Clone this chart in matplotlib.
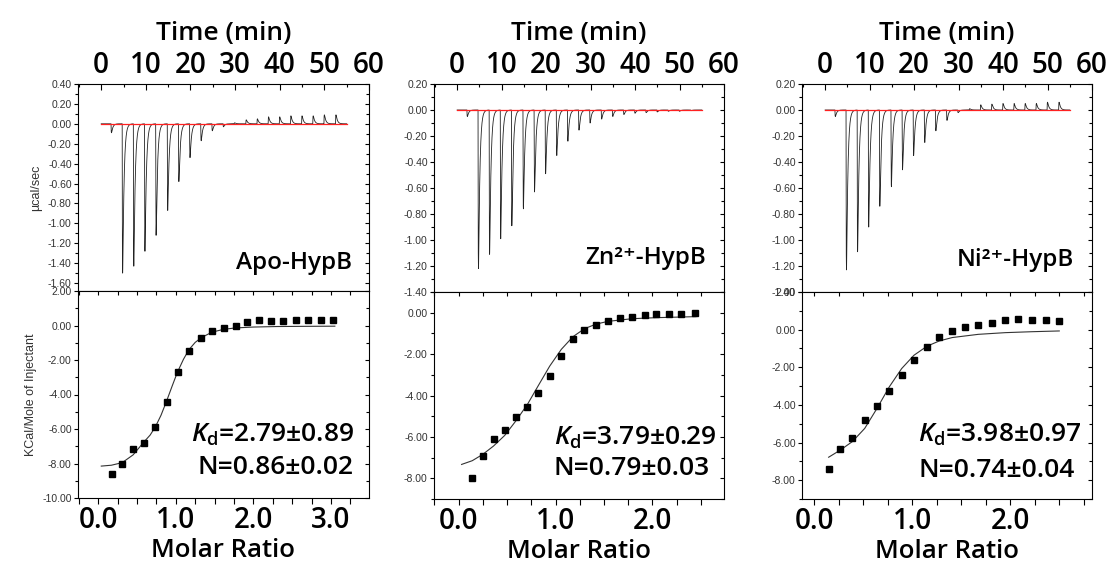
import numpy as np
import matplotlib
matplotlib.use("Agg")
import matplotlib.pyplot as plt
from matplotlib.ticker import MultipleLocator, FormatStrFormatter, FixedLocator

plt.rcParams['axes.unicode_minus'] = False
plt.rcParams['mathtext.fontset'] = 'custom'
plt.rcParams['mathtext.rm'] = 'Open Sans:semibold'
plt.rcParams['mathtext.it'] = 'Open Sans:italic:semibold'
plt.rcParams['mathtext.bf'] = 'Open Sans:bold'

# ---------------- data ----------------
inj_time = [2.2, 4.7, 7.2, 9.7, 12.2, 14.8, 17.3, 19.8, 22.3, 24.8, 27.3,
            29.8, 32.4, 34.9, 37.4, 39.9, 42.4, 44.9, 47.4, 49.9, 52.5]

apo_peak = [-0.09, -1.50, -1.43, -1.28, -1.12, -0.87, -0.58, -0.34, -0.17, -0.07, -0.03,
            0.01, 0.04, 0.05, 0.07, 0.07, 0.08, 0.08, 0.08, 0.09, 0.09]
zn_peak = [-0.05, -1.22, -1.11, -0.99, -0.89, -0.76, -0.63, -0.49, -0.35, -0.24, -0.155,
           -0.10, -0.07, -0.05, -0.035, -0.025, -0.02, -0.015, -0.01, -0.01, -0.005]
ni_peak = [-0.05, -1.23, -1.09, -0.90, -0.74, -0.59, -0.46, -0.35, -0.25, -0.16, -0.08,
           -0.02, 0.01, 0.04, 0.045, 0.05, 0.05, 0.05, 0.05, 0.06, 0.06]

apo_ratio = [0.172, 0.310, 0.452, 0.594, 0.736, 0.882, 1.024, 1.174, 1.325, 1.471,
             1.622, 1.772, 1.923, 2.077, 2.228, 2.387, 2.551, 2.710, 2.873, 3.032]
apo_heat = [-8.60, -8.04, -7.17, -6.82, -5.91, -4.43, -2.72, -1.45, -0.75, -0.33,
            -0.17, -0.04, 0.21, 0.31, 0.25, 0.27, 0.33, 0.33, 0.29, 0.29]
apo_fit_x = [0.04, 0.17, 0.31, 0.45, 0.59, 0.67, 0.74, 0.81, 0.88, 0.95, 1.02,
             1.10, 1.17, 1.25, 1.33, 1.47, 1.62, 1.77, 2.0, 2.3, 2.6, 3.05]
apo_fit_y = [-8.15, -8.10, -7.95, -7.50, -6.75, -6.35, -5.85, -5.20, -4.40, -3.55, -2.72,
             -1.95, -1.40, -0.98, -0.70, -0.38, -0.22, -0.14, -0.09, -0.06, -0.05, -0.04]

zn_ratio = [0.141, 0.251, 0.362, 0.475, 0.589, 0.706, 0.823, 0.940, 1.057, 1.178,
            1.298, 1.422, 1.543, 1.670, 1.790, 1.921, 2.042, 2.173, 2.300, 2.438]
zn_heat = [-7.97, -6.92, -6.12, -5.68, -5.02, -4.56, -3.86, -3.08, -2.09, -1.29,
           -0.82, -0.61, -0.40, -0.27, -0.21, -0.10, -0.06, -0.08, -0.06, 0.00]
zn_fit_x = [0.03, 0.14, 0.25, 0.36, 0.475, 0.59, 0.71, 0.82, 0.94, 1.06, 1.18,
            1.30, 1.42, 1.54, 1.79, 2.04, 2.45]
zn_fit_y = [-7.33, -7.15, -6.84, -6.44, -5.93, -5.23, -4.43, -3.54, -2.58, -1.77, -1.16,
            -0.77, -0.55, -0.42, -0.29, -0.24, -0.19]

ni_ratio = [0.146, 0.265, 0.388, 0.514, 0.639, 0.765, 0.891, 1.017, 1.150, 1.276,
            1.408, 1.541, 1.673, 1.813, 1.949, 2.082, 2.221, 2.361, 2.500]
ni_heat = [-7.42, -6.33, -5.74, -4.81, -4.06, -3.27, -2.39, -1.59, -0.94, -0.41,
           -0.05, 0.16, 0.25, 0.35, 0.49, 0.55, 0.51, 0.51, 0.46]
ni_fit_x = [0.146, 0.265, 0.388, 0.514, 0.639, 0.765, 0.891, 1.017, 1.150, 1.276,
            1.408, 1.673, 1.949, 2.221, 2.500]
ni_fit_y = [-6.78, -6.40, -5.95, -5.25, -4.19, -3.04, -2.07, -1.36, -0.88, -0.60,
            -0.42, -0.25, -0.16, -0.11, -0.07]

names = ['Apo-HypB', 'Zn²⁺-HypB', 'Ni²⁺-HypB']
kd_text = [r'$\mathit{K}_{\mathrm{d}}$=2.79±0.89', r'$\mathit{K}_{\mathrm{d}}$=3.79±0.29',
           r'$\mathit{K}_{\mathrm{d}}$=3.98±0.97']
n_text = ['N=0.86±0.02', 'N=0.79±0.03', 'N=0.74±0.04']
ratio_ticklabels = [['0.0', '1.0', '2.0', '3.0'], ['0.0', '1.0', '2.0'], ['0.0', '1.0', '2.0']]
ratio_ticks = [[0, 1, 2, 3], [0, 1, 2], [0, 1, 2]]

peaks = [apo_peak, zn_peak, ni_peak]
ratios = [apo_ratio, zn_ratio, ni_ratio]
heats = [apo_heat, zn_heat, ni_heat]
fits_x = [apo_fit_x, zn_fit_x, ni_fit_x]
fits_y = [apo_fit_y, zn_fit_y, ni_fit_y]

# ---------------- layout / style ----------------
W, H = 1109, 567
panels = [dict(l=78, r=369, t=84, m=291, b=498),
          dict(l=434, r=724, t=84, m=292, b=499),
          dict(l=802, r=1092, t=84, m=292, b=499)]
top_ylim = [(-1.68, 0.40), (-1.40, 0.20), (-1.40, 0.20)]
bot_ylim = [(-10, 2), (-9, 1), (-9, 2)]
bot_xlim = [(-0.26, 3.49), (-0.255, 2.74), (-0.126, 2.834)]
label_pos = [(0.742, 0.135), (0.731, 0.163), (0.736, 0.154)]
kd_pos = [(0.668, 0.304), (0.693, 0.293), (0.683, 0.309)]
n_pos = [(0.680, 0.145), (0.682, 0.148), (0.672, 0.140)]

BIGFONT = dict(family=['Open Sans', 'DejaVu Sans'], weight='semibold')
small_col = '#333333'


def rect(l, r, t, b):
    return [l / W, 1 - b / H, (r - l) / W, (b - t) / H]


def thermogram(times, pk, t):
    dtf = np.linspace(0, 3, 30001)
    gf = (1 - np.exp(-dtf / 0.05)) * np.exp(-dtf / 0.3)
    gmax = gf.max()
    y = np.zeros_like(t)
    for t0, h in zip(times, pk):
        dt = t - t0
        m = dt >= 0
        g = np.zeros_like(t)
        g[m] = (1 - np.exp(-dt[m] / 0.05)) * np.exp(-dt[m] / 0.3)
        y += h * g / gmax
    return y


fig = plt.figure(figsize=(W / 100, H / 100), dpi=100)
t = np.linspace(0, 55, 40000)

for i, p in enumerate(panels):
    # ---- upper: raw thermogram ----
    axt = fig.add_axes(rect(p['l'], p['r'], p['t'], p['m']))
    axt.plot(t, thermogram(inj_time, peaks[i], t), color='#222222', lw=0.6)
    axt.plot([0, 55], [0, 0], color='#ff2020', lw=0.9)
    axt.set_xlim(-5.2, 60)
    axt.set_ylim(*top_ylim[i])
    axt.xaxis.tick_top()
    axt.xaxis.set_label_position('top')
    axt.xaxis.set_major_locator(MultipleLocator(10))
    axt.xaxis.set_minor_locator(MultipleLocator(5))
    axt.tick_params(axis='x', which='both', direction='in', top=True, bottom=False,
                    labeltop=True, labelbottom=False, pad=3)
    axt.tick_params(axis='x', which='major', length=4, width=0.8)
    axt.tick_params(axis='x', which='minor', length=2.5, width=0.8)
    for lab in axt.get_xticklabels():
        lab.set_fontfamily('Open Sans'); lab.set_fontweight('semibold'); lab.set_fontsize(20)
    axt.set_xlabel('Time (min)', fontsize=19, labelpad=8, **BIGFONT)
    axt.yaxis.set_major_locator(MultipleLocator(0.2))
    axt.yaxis.set_minor_locator(MultipleLocator(0.1))
    axt.yaxis.set_major_formatter(FormatStrFormatter('%.2f'))
    axt.tick_params(axis='y', which='both', direction='out', left=True, right=False,
                    labelsize=7.5, labelcolor=small_col, pad=1.5)
    axt.tick_params(axis='y', which='major', length=3, width=0.8)
    axt.tick_params(axis='y', which='minor', length=2, width=0.8)
    for lab in axt.get_yticklabels():
        lab.set_fontfamily('Liberation Sans')
    sy = axt.secondary_yaxis('right')
    sy.yaxis.set_major_locator(MultipleLocator(0.2))
    sy.yaxis.set_minor_locator(MultipleLocator(0.1))
    sy.tick_params(axis='y', which='both', direction='in', labelright=False)
    sy.tick_params(axis='y', which='major', length=3, width=0.8)
    sy.tick_params(axis='y', which='minor', length=2, width=0.8)
    sy.spines['right'].set_visible(False)
    for s in axt.spines.values():
        s.set_linewidth(0.8)
    axt.text(label_pos[i][0], label_pos[i][1], names[i], transform=axt.transAxes,
             ha='center', va='center', fontsize=17.5, **BIGFONT)
    if i == 0:
        axt.set_ylabel('µcal/sec', fontsize=9, color=small_col, labelpad=4,
                       family='Liberation Sans')

    # ---- lower: integrated heats ----
    axb = fig.add_axes(rect(p['l'], p['r'], p['m'], p['b']))
    axb.plot(fits_x[i], fits_y[i], color='#333333', lw=0.8)
    axb.plot(ratios[i], heats[i], 's', color='black', ms=4.8)
    axb.set_xlim(*bot_xlim[i])
    axb.set_ylim(*bot_ylim[i])
    axb.xaxis.set_major_locator(FixedLocator(ratio_ticks[i]))
    axb.set_xticklabels(ratio_ticklabels[i])
    axb.xaxis.set_minor_locator(MultipleLocator(0.25))
    axb.tick_params(axis='x', which='both', direction='out', bottom=True, top=False, pad=2)
    axb.tick_params(axis='x', which='major', length=4, width=0.8)
    axb.tick_params(axis='x', which='minor', length=4, width=0.8)
    for lab in axb.get_xticklabels():
        lab.set_fontfamily('Open Sans'); lab.set_fontweight('semibold'); lab.set_fontsize(20)
    axb.set_xlabel('Molar Ratio', fontsize=18.5, labelpad=2, **BIGFONT)
    axb.yaxis.set_major_locator(MultipleLocator(2))
    axb.yaxis.set_minor_locator(MultipleLocator(1))
    axb.yaxis.set_major_formatter(FormatStrFormatter('%.2f'))
    axb.tick_params(axis='y', which='both', direction='out', left=True, right=False,
                    labelsize=7.5, labelcolor=small_col, pad=1.5)
    axb.tick_params(axis='y', which='major', length=3, width=0.8)
    axb.tick_params(axis='y', which='minor', length=2, width=0.8)
    for lab in axb.get_yticklabels():
        lab.set_fontfamily('Liberation Sans')
    sy2 = axb.secondary_yaxis('right')
    sy2.yaxis.set_major_locator(MultipleLocator(2))
    sy2.yaxis.set_minor_locator(MultipleLocator(1))
    sy2.tick_params(axis='y', which='both', direction='in', labelright=False)
    sy2.tick_params(axis='y', which='major', length=3, width=0.8)
    sy2.tick_params(axis='y', which='minor', length=2, width=0.8)
    sy2.spines['right'].set_visible(False)
    sx2 = axb.secondary_xaxis('top')
    sx2.xaxis.set_major_locator(MultipleLocator(0.25))
    sx2.tick_params(axis='x', which='both', direction='in', labeltop=False, length=3, width=0.8)
    sx2.spines['top'].set_visible(False)
    for s in axb.spines.values():
        s.set_linewidth(0.8)
    axb.text(kd_pos[i][0], kd_pos[i][1], kd_text[i], transform=axb.transAxes,
             ha='center', va='center', fontsize=19, **BIGFONT)
    axb.text(n_pos[i][0], n_pos[i][1], n_text[i], transform=axb.transAxes,
             ha='center', va='center', fontsize=19, **BIGFONT)
    if i == 0:
        axb.set_ylabel('KCal/Mole of Injectant', fontsize=9, color=small_col, labelpad=4,
                       family='Liberation Sans')

fig.savefig('out.png', dpi=100)
